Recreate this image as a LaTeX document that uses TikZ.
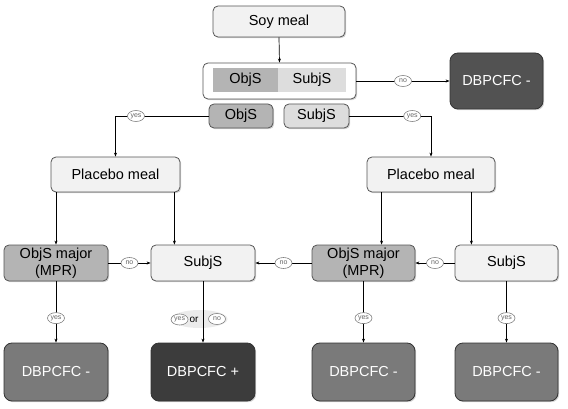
\documentclass[tikz,border=0pt]{standalone}
\usepackage{fontspec}
\setmainfont{Liberation Sans}
\usetikzlibrary{shapes.geometric, shadows, positioning, arrows.meta}
\definecolor{edgegray}{HTML}{555555}
\definecolor{palefill}{HTML}{F2F2F2}
\definecolor{midfill}{HTML}{B4B4B4}
\definecolor{softfill}{HTML}{DDDDDD}
\definecolor{darkfill}{HTML}{525252}
\definecolor{greyfill}{HTML}{7A7A7A}
\definecolor{blackfill}{HTML}{3C3C3C}
\newcommand{\boxfont}{\fontsize{14.5}{16.5}\selectfont}
\tikzstyle{softshadow} = [drop shadow={shadow xshift=1.2pt, shadow yshift=-1.2pt, opacity=0.35}]
\tikzstyle{lightbox} = [rectangle, rounded corners=5pt, inner sep=0pt, draw=edgegray,
line width=0.8pt, fill=palefill, font=\boxfont, align=center, softshadow]
\tikzstyle{graybox} = [lightbox, fill=midfill]
\tikzstyle{partbox} = [rectangle, inner sep=0pt, font=\boxfont]
\tikzstyle{resultbox} = [rectangle, rounded corners=8pt, inner sep=0pt, draw=black!80,
line width=0.8pt, fill=greyfill, text=white, font=\boxfont, minimum height=58pt, softshadow]
\tikzstyle{tag} = [ellipse, draw=black!50, line width=0.6pt, fill=white, inner sep=0pt,
minimum width=17pt, minimum height=11pt, text=black!60, font=\fontsize{7}{7}\selectfont]
\tikzstyle{arrow} = [line width=0.7pt, -{Stealth[length=4pt, width=3pt]}]

\begin{document}
\begin{tikzpicture}[x=1pt, y=-1pt]
    \useasboundingbox (0,0) rectangle (568,409);
    % top part
    \node (soy) [lightbox, minimum width=132pt, minimum height=31pt] at (279,21.5) {Soy meal};
    \node (choice) [lightbox, fill=white, minimum width=153pt, minimum height=36pt] at (279.5,81) {};
    \node (objpart) [partbox, fill=midfill, minimum width=65pt, minimum height=24pt] at (245.5,80) {ObjS};
    \node (subjpart) [partbox, fill=softfill, minimum width=68pt, minimum height=24pt] at (312,80) {SubjS};
    \node (objs) [graybox, minimum width=64pt, minimum height=24pt] at (241,116) {ObjS};
    \node (subjs) [lightbox, fill=softfill, minimum width=65pt, minimum height=24pt] at (316.5,116) {SubjS};
    \node (stopneg) [resultbox, fill=darkfill, minimum width=93pt, minimum height=56pt] at (496.5,81) {DBPCFC -};
    % placebo challenges
    \node (placeboL) [lightbox, minimum width=129pt, minimum height=35pt] at (115.5,174.5) {Placebo meal};
    \node (placeboR) [lightbox, minimum width=128pt, minimum height=35pt] at (431,174.5) {Placebo meal};
    \node (objmajL) [graybox, minimum width=104pt, minimum height=36pt] at (56,263) {ObjS major\\(MPR)};
    \node (subjsL) [lightbox, minimum width=104pt, minimum height=36pt] at (203,263) {SubjS};
    \node (objmajR) [graybox, minimum width=103pt, minimum height=36pt] at (363.5,263) {ObjS major\\(MPR)};
    \node (subjsR) [lightbox, minimum width=103pt, minimum height=36pt] at (506.5,263) {SubjS};
    % outcomes
    \node (resA) [resultbox, minimum width=104pt] at (56,372) {DBPCFC -};
    \node (resB) [resultbox, fill=blackfill, minimum width=104pt] at (203,372) {DBPCFC +};
    \node (resC) [resultbox, minimum width=103pt] at (363.5,372) {DBPCFC -};
    \node (resD) [resultbox, minimum width=103pt] at (506.5,372) {DBPCFC -};

    \draw [arrow] (soy.south) -- (choice.north);
    \draw [arrow] (choice.east) -- node[tag]{no} (stopneg.west |- choice.east);
    \draw [arrow] (objs.west) -| node[tag, pos=0.39]{yes} (placeboL.north);
    \draw [arrow] (subjs.east) -| node[tag, pos=0.385]{yes} (placeboR.north);
    \draw [arrow] (placeboL.south -| objmajL.north) -- (objmajL.north);
    \draw [arrow] ([xshift=-6pt]placeboL.south east) -- ([xshift=-6pt]placeboL.south east |- subjsL.north);
    \draw [arrow] ([xshift=15pt]placeboR.south west) -- ([xshift=15pt]placeboR.south west |- objmajR.north);
    \draw [arrow] ([xshift=-24pt]placeboR.south east) -- ([xshift=-24pt]placeboR.south east |- subjsR.north);
    \draw [arrow] (objmajL.east) -- node[tag]{no} (subjsL.west);
    \draw [arrow] (objmajR.west) -- node[tag]{no} (subjsL.east);
    \draw [arrow] (subjsR.west) -- node[tag]{no} (objmajR.east);
    \draw [arrow] (objmajL.south) -- node[tag, pos=0.6]{yes} (resA.north);
    \draw [arrow] (objmajR.south) -- node[tag, pos=0.6]{yes} (resC.north);
    \draw [arrow] (subjsR.south) -- node[tag, pos=0.6]{yes} (resD.north);
    % yes or no
    \node (orbg) [ellipse, fill=black!8, inner sep=0pt, minimum width=56pt, minimum height=18pt] at (199.5,319) {};
    \node (orword) [inner sep=0pt, font=\fontsize{10}{10}\selectfont] at (194,319.5) {or};
    \node (yesB) [tag, left=1pt of orword] {yes};
    \node (noB) [tag] at (217,319) {no};
    \draw [arrow] (subjsL.south) -- (resB.north);
\end{tikzpicture}
\end{document}
